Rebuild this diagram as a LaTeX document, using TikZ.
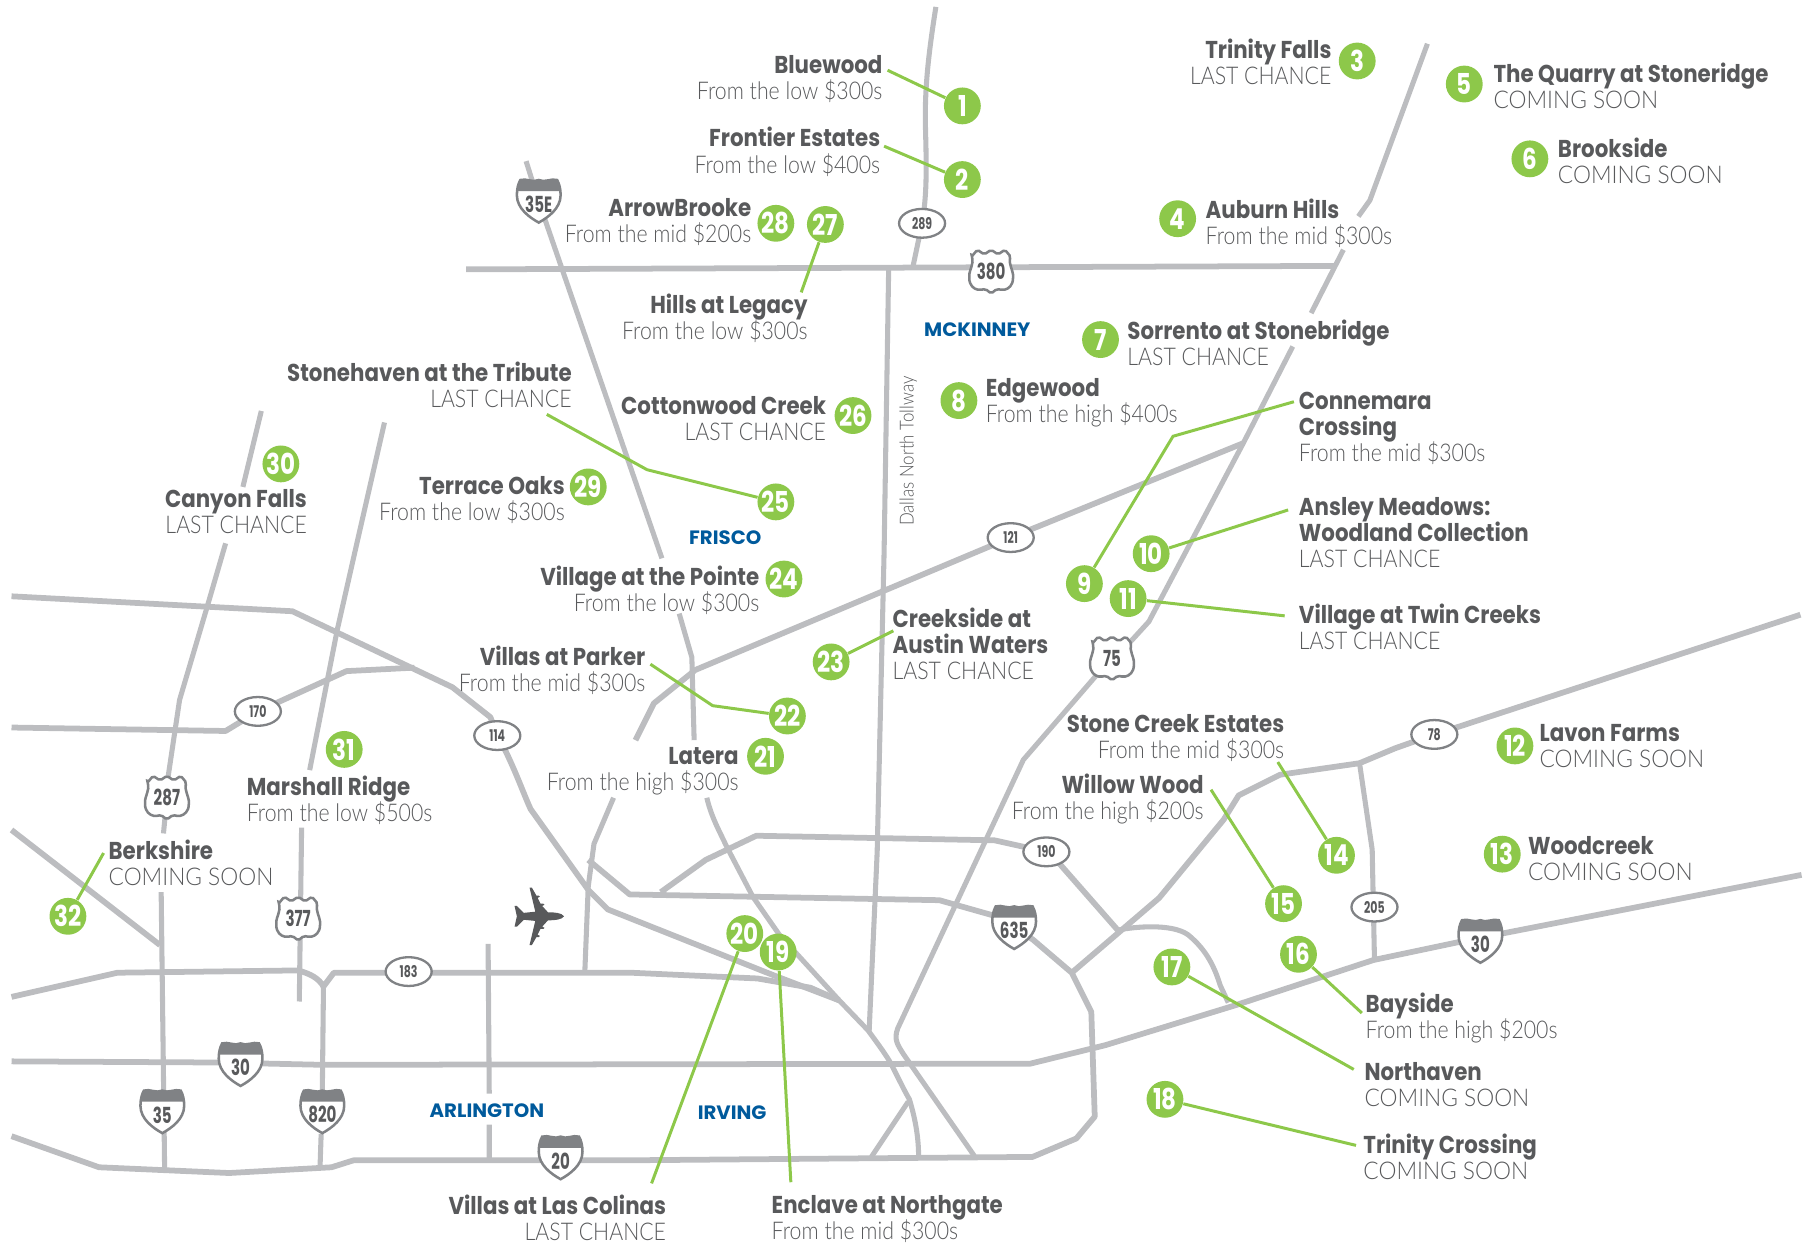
\documentclass[tikz,border=0pt]{standalone}
\usepackage{fontspec}
\setmainfont{Lato}
\newfontfamily\titlefam[FakeStretch=0.875]{Poppins}
\newfontfamily\lightfam[FakeStretch=0.872]{Lato Light}
\newfontfamily\capsfam[FakeStretch=0.93]{Lato Light}
\newfontfamily\numfam[FakeStretch=0.68]{Poppins}
\newfontfamily\pinfam[FakeStretch=0.80]{Poppins}
\newfontfamily\cityfam[FakeStretch=1.02]{Poppins}
\usetikzlibrary{shapes.geometric}
\definecolor{roadc}{HTML}{BCBDC0}
\definecolor{titlec}{HTML}{58595B}
\definecolor{subc}{HTML}{58595B}
\definecolor{greenc}{HTML}{8DC84A}
\definecolor{cityc}{HTML}{005A9C}
\definecolor{shieldc}{HTML}{808285}
\newcommand\lnstrut{\vrule height 8pt depth 3pt width 0pt\relax}
\newcommand\lblfont{\fontsize{10.6}{11.3}\selectfont\lineskiplimit=-20pt\relax}
\newcommand\ttl[1]{\lnstrut{\titlefam\bfseries\color{titlec}#1}}
\newcommand\sbl[1]{\lnstrut{\lightfam\color{subc}#1}}
\newcommand\soon{{\capsfam COMING SOON}}
\newcommand\lblR[5]{\node[lab,anchor=east,align=right] (#1) at (#2,#3+13.5) {\ttl{#4}\\\sbl{#5}};}
\newcommand\lblL[5]{\node[lab,anchor=west,align=left] (#1) at (#2,#3+13.5) {\ttl{#4}\\\sbl{#5}};}
\newcommand\pin[3]{\node[pinc] (#1) at (#2,#3) {\bfseries #1};}
\newcommand\ishield[4]{%
  \begin{scope}[shift={(#2,#3-1)},yscale=0.88]
    \path[fill=white,draw=shieldc,line width=1.1pt] (-16,-20) .. controls (-11,-22) and (-5,-17) .. (0,-20) .. controls (5,-17) and (11,-22) .. (16,-20) .. controls (18,-16) and (19,-11) .. (19,-5) .. controls (19,8) and (8,17) .. (0,22) .. controls (-8,17) and (-19,8) .. (-19,-5) .. controls (-19,-11) and (-18,-16) .. (-16,-20) -- cycle;
    \fill[shieldc] (-16,-20) .. controls (-11,-22) and (-5,-17) .. (0,-20) .. controls (5,-17) and (11,-22) .. (16,-20) .. controls (18,-16) and (18.5,-13) .. (18.5,-9) -- (-18.5,-9) .. controls (-18.5,-13) and (-18,-16) .. (-16,-20) -- cycle;
  \end{scope}
  \node[shieldtext] (#1) at (#2,#3+2.5) {#4};}
\newcommand\ushield[4]{%
  \begin{scope}[shift={(#2,#3)}]
    \path[fill=white,draw=shieldc,line width=1.1pt,rounded corners=0.8pt] (-17,-13) -- (-12,-19) -- (-6,-15) -- (0,-19) -- (6,-15) -- (12,-19) -- (17,-13) .. controls (15,-8) and (19,0) .. (19,4) .. controls (19,12) and (15,15) .. (10,16) -- (5,15) -- (0,19) -- (-5,15) -- (-10,16) .. controls (-15,15) and (-19,12) .. (-19,4) .. controls (-19,0) and (-15,-8) .. (-17,-13) -- cycle;
  \end{scope}
  \node[shieldtext] (#1) at (#2,#3) {#4};}
\tikzset{
  x=0.5pt,y=-0.5pt,
  road/.style={draw=roadc,line width=2.5pt,line join=round},
  thin road/.style={draw=roadc,line width=2.2pt,line join=round},
  leader/.style={draw=greenc,line width=1.3pt},
  lab/.style={inner sep=0pt,font=\lblfont},
  pinc/.style={circle,fill=greenc,text=white,minimum size=16pt,inner sep=0pt,font=\pinfam\fontsize{12.5}{11}\selectfont},
  shieldtext/.style={inner sep=0pt,text=titlec,font=\numfam\bfseries\fontsize{9.6}{9}\selectfont},
  oval/.style={ellipse,draw=shieldc,fill=white,line width=1pt,minimum width=20pt,minimum height=12.5pt,inner sep=0pt,text=titlec,font=\numfam\bfseries\fontsize{7}{7}\selectfont},
  city/.style={inner sep=0pt,text=cityc,font=\cityfam\bfseries\fontsize{8.4}{9}\selectfont}
}
\begin{document}
\begin{tikzpicture}
\useasboundingbox (0,0) rectangle (1568,1079);
% ---- roads
\draw[thin road] (813,6) .. controls (806,50) and (803,80) .. (804,113) .. controls (805,150) and (805,170) .. (801,194) -- (793,232);
\draw[road] (405,234) -- (1160,231);
\draw[thin road] (772,232) -- (768,480) -- (762,740) -- (755,896);
\draw[thin road] (1240,38) -- (1190,174) -- (1180,188);
\draw[thin road] (1167,217) -- (1139,272);
\draw[thin road] (1123,301) -- (1080,385) -- (998,540) -- (966,575) -- (953,586) -- (889,660) -- (780,893) .. controls (776,903) and (780,908) .. (785,916) -- (847,1005);
\draw[thin road] (457,140) -- (468,175) -- (575,485);
\draw[thin road] (590,533) -- (601,571) -- (603,643);
\draw[thin road] (614,693) .. controls (618,710) and (625,722) .. (631,735) -- (654,779) -- (677,812) -- (729,869) -- (754,895) .. controls (765,910) and (770,917) .. (774,924) .. controls (782,940) and (787,950) .. (790,955) .. controls (796,975) and (798,990) .. (798,1006);
\draw[road] (1080,385) -- (878,467) -- (604,582) -- (568,611) -- (552,643);
\draw[thin road] (533,693) -- (516,733) -- (511,770) -- (508,845);
\draw[road] (10,518) -- (254,531) -- (393,597) -- (426,623) -- (432,639) -- (439,652) .. controls (450,675) and (455,690) .. (461,703) -- (511,773) -- (528,790) -- (674,848) -- (729,869);
\draw[road] (10,632) -- (196,635) -- (224,618) -- (301,583) -- (360,580);
\draw[thin road] (227,357) -- (211,423);
\draw[thin road] (196,472) -- (180,527) -- (156,608) -- (146,675) -- (145,693) -- (142,724);
\draw[thin road] (334,367) -- (310,472) -- (293,547) -- (269,669);
\draw[thin road] (262,719) -- (260,870);
\draw[road] (10,721) -- (139,821);
\draw[thin road] (140,775) -- (143,1015);
\draw[road] (10,866) -- (102,845) -- (259,843) .. controls (270,846) and (277,850) .. (281,857) -- (290,845) -- (548,845) -- (658,850) -- (704,858) -- (729,869);
\draw[thin road] (281,857) -- (280,948) (279,985) -- (278,1014);
\draw[road] (10,922) -- (190,923) -- (280,925) -- (895,924) -- (960,908) -- (1074,873) -- (1193,834) -- (1269,818) -- (1565,760);
\draw[road] (10,987) -- (86,1014) -- (199,1019) -- (288,1014) -- (307,1008) -- (540,1008) -- (897,1005) -- (935,989) -- (951,970) -- (948,879) -- (931,845) -- (897,816) -- (881,806) -- (862,795) -- (816,782) -- (547,777) -- (511,747);
\draw[road] (574,775) -- (613,747) -- (657,726) -- (864,730) -- (909,740) -- (921,751) -- (971,808);
\draw[road] (931,845) -- (1007,780) -- (1063,712) -- (1076,691) -- (1112,673) -- (1181,663) -- (1212,650) -- (1246,638) -- (1265,632) -- (1564,534);
\draw[thin road] (1181,663) -- (1192,738) -- (1194,834);
\draw[thin road] (971,808) .. controls (985,805) and (1018,802) .. (1032,812) .. controls (1048,825) and (1055,840) .. (1060,856) -- (1067,871);
\draw[thin road] (424,820) -- (425,950) (425,977) -- (425,1006);
\draw[thin road] (757,1005) -- (789,957);
% ---- airplane
\begin{scope}[shift={(468,796)}]
  \fill[titlec] (22,0) .. controls (20,-3) and (14,-3.5) .. (8,-3.5) -- (3,-9) -- (5,-10) -- (4,-11) -- (1.5,-11) -- (-1,-16) -- (1,-17) -- (0,-18) -- (-2,-18) -- (-6,-25) -- (-8,-25) -- (-3,-4) -- (-13,-3) -- (-19,-9) -- (-21,-9) -- (-19,0) -- (-21,9) -- (-19,9) -- (-13,3) -- (-3,4) -- (-8,25) -- (-6,25) -- (-2,18) -- (0,18) -- (1,17) -- (-1,16) -- (1.5,11) -- (4,11) -- (5,10) -- (3,9) -- (8,3.5) .. controls (14,3.5) and (20,3) .. (22,0) -- cycle;
\end{scope}
% ---- shields
\ishield{s35E}{468}{175}{35E}
\ishield{s635}{881}{806}{635}
\ishield{s820}{280}{966}{820}
\ishield{s30w}{209}{925}{30}
\ishield{s35}{141}{966}{35}
\ishield{s20}{487}{1006}{20}
\ishield{s30e}{1286}{818}{30}
\ushield{s287}{145}{693}{287}
\ushield{s377}{259}{798}{377}
\ushield{s380}{861}{236}{380}
\ushield{s75}{966}{572}{75}
\node[oval] (o289) at (801,194) {289};
\node[oval] (o121) at (878,467) {121};
\node[oval] (o170) at (224,618) {170};
\node[oval] (o114) at (432,639) {114};
\node[oval] (o183) at (355,844) {183};
\node[oval] (o190) at (909,740) {190};
\node[oval] (o78) at (1246,638) {78};
\node[oval] (o205) at (1194,788) {205};
% ---- pins
\pin{1}{836}{92}\pin{2}{836}{156}\pin{3}{1179}{53}\pin{4}{1023}{190}
\pin{5}{1272}{73}\pin{6}{1329}{138}\pin{7}{956}{295}\pin{8}{833}{348}
\pin{9}{942}{507}\pin{10}{1000}{481}\pin{11}{980}{520}\pin{12}{1316}{648}
\pin{13}{1305}{742}\pin{14}{1161}{743}\pin{15}{1115}{785}\pin{16}{1128}{829}
\pin{17}{1018}{840}\pin{18}{1012}{955}\pin{19}{676}{827}\pin{20}{647}{811}
\pin{21}{665}{657}\pin{22}{684}{622}\pin{23}{722}{575}\pin{24}{681}{503}
\pin{25}{674}{436}\pin{26}{741}{361}\pin{27}{717}{195}\pin{28}{674}{194}
\pin{29}{511}{423}\pin{30}{244}{403}\pin{31}{299}{651}\pin{32}{59}{796}
% ---- leader ends
\coordinate (e1) at (771,61);
\coordinate (e2) at (768,127);
\coordinate (e27) at (696,254);
\coordinate (e25) at (475,360);
\coordinate (b25) at (562,408);
\coordinate (e22) at (565,577);
\coordinate (b22) at (619,613);
\coordinate (e23) at (776,548);
\coordinate (e9) at (1124,349);
\coordinate (b9) at (1019,379);
\coordinate (e10) at (1119,443);
\coordinate (e11) at (1116,535);
\coordinate (e14) at (1110,662);
\coordinate (e15) at (1052,686);
\coordinate (e16) at (1183,880);
\coordinate (e17) at (1176,929);
\coordinate (e18) at (1178,995);
\coordinate (e19) at (687,1027);
\coordinate (e20) at (566,1028);
\coordinate (e32) at (90,741);
\draw[leader] (e1) -- (1);
\draw[leader] (e2) -- (2);
\draw[leader] (e27) -- (27);
\draw[leader] (e25) -- (b25) -- (25);
\draw[leader] (e22) -- (b22) -- (22);
\draw[leader] (e23) -- (23);
\draw[leader] (e9) -- (b9) -- (9);
\draw[leader] (e10) -- (10);
\draw[leader] (e11) -- (11);
\draw[leader] (e14) -- (14);
\draw[leader] (e15) -- (15);
\draw[leader] (e16) -- (16);
\draw[leader] (e17) -- (17);
\draw[leader] (e18) -- (18);
\draw[leader] (e19) -- (19);
\draw[leader] (e20) -- (20);
\draw[leader] (e32) -- (32);
% ---- labels
\lblR{l1}{767}{57}{Bluewood}{From the low \$300s}
\lblR{l2}{765}{120}{Frontier Estates}{From the low \$400s}
\lblR{l28}{653}{181}{ArrowBrooke}{From the mid \$200s}
\lblR{l27}{702}{265}{Hills at Legacy}{From the low \$300s}
\lblR{l25}{497}{324}{Stonehaven at the Tribute}{LAST CHANCE}
\lblR{l26}{718}{353}{Cottonwood Creek}{LAST CHANCE}
\lblR{l29}{491}{422}{Terrace Oaks}{From the low \$300s}
\lblR{l30}{267}{434}{Canyon Falls}{LAST CHANCE}
\lblR{l24}{660}{501}{Village at the Pointe}{From the low \$300s}
\lblR{l22}{561}{570}{Villas at Parker}{From the mid \$300s}
\lblR{l21}{642}{657}{Latera}{From the high \$300s}
\lblL{l31}{214}{683}{Marshall Ridge}{From the low \$500s}
\lblL{l32}{94}{739}{Berkshire}{\soon}
\node[lab,anchor=west,align=left] (l23) at (775,562.5) {\ttl{Creekside at}\\\ttl{Austin Waters}\\\sbl{LAST CHANCE}};
\node[lab,anchor=west,align=left] (l9) at (1128,373.5) {\ttl{Connemara}\\\ttl{Crossing}\\\sbl{From the mid \$300s}};
\node[lab,anchor=west,align=left] (l10) at (1128,465.5) {\ttl{Ansley Meadows:}\\\ttl{Woodland Collection}\\\sbl{LAST CHANCE}};
\lblL{l11}{1128}{534}{Village at Twin Creeks}{LAST CHANCE}
\lblR{l3}{1157}{43}{Trinity Falls}{LAST CHANCE}
\lblL{l5}{1297}{64}{The Quarry at Stoneridge}{\soon}
\lblL{l6}{1353}{129}{Brookside}{\soon}
\lblL{l4}{1047}{182}{Auburn Hills}{From the mid \$300s}
\lblL{l7}{979}{287}{Sorrento at Stonebridge}{LAST CHANCE}
\lblL{l8}{856}{337}{Edgewood}{From the high \$400s}
\lblR{l14}{1116}{629}{Stone Creek Estates}{From the mid \$300s}
\lblR{l15}{1046}{682}{Willow Wood}{From the high \$200s}
\lblL{l12}{1337}{637}{Lavon Farms}{\soon}
\lblL{l13}{1327}{735}{Woodcreek}{\soon}
\lblL{l16}{1186}{872}{Bayside}{From the high \$200s}
\lblL{l17}{1185}{931}{Northaven}{\soon}
\lblL{l18}{1184}{994}{Trinity Crossing}{\soon}
\lblR{l20}{579}{1047}{Villas at Las Colinas}{LAST CHANCE}
\lblL{l19}{670}{1047}{Enclave at Northgate}{From the mid \$300s}
% ---- cities
\node[city] (mck) at (849,286) {MCKINNEY};
\node[city] (fri) at (630,467) {FRISCO};
\node[city] (arl) at (423,965) {ARLINGTON};
\node[city] (irv) at (636,967) {IRVING};
\node[inner sep=0pt,rotate=90,text=subc,font=\lightfam\fontsize{8.4}{10}\selectfont] (dnt) at (789,392) {Dallas North Tollway};
\end{tikzpicture}
\end{document}
